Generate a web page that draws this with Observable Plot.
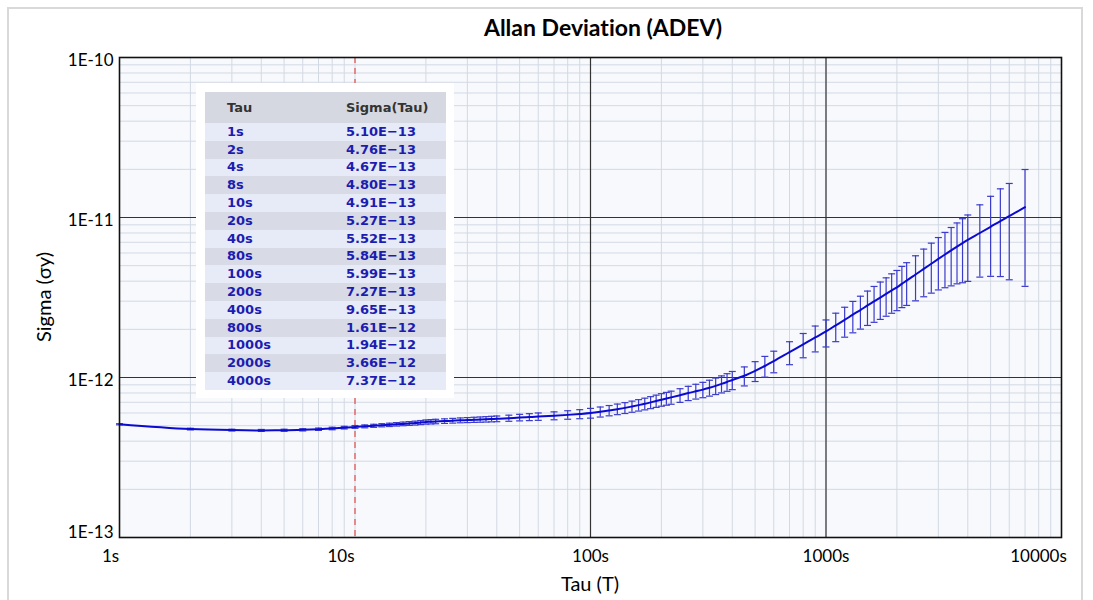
<!DOCTYPE html>
<html>
<head>
<meta charset="utf-8">
<script src="https://cdn.jsdelivr.net/npm/d3@7"></script>
<script src="https://cdn.jsdelivr.net/npm/@observablehq/plot@0.6"></script>
<style>
  html, body { margin: 0; padding: 0; background: #fff; }
  #wrap { position: relative; width: 1093px; height: 600px; overflow: hidden; font-family: Lato, "Open Sans", sans-serif; font-variant-ligatures: none; }
  #border { position: absolute; left: 7px; top: 7px; width: 1076px; height: 620px; border: 2px solid #d9d9d9; box-sizing: border-box; }
  #chart { position: absolute; left: 0; top: 0; }
  #title { position: absolute; left: 0; width: 1206px; top: 13px; text-align: center; font-weight: bold; font-size: 23px; color: #000; }
  #ylabel { position: absolute; left: 43px; top: 297px; transform: translate(-50%, -50%) rotate(-90deg); font-size: 20px; white-space: nowrap; color: #000; }
  #xlabel { position: absolute; left: 590px; top: 571px; transform: translateX(-50%); font-size: 20px; white-space: nowrap; color: #000; }
  #inset { position: absolute; left: 196px; top: 83px; width: 258px; height: 315px; background: #fff; }
  #inset table { position: absolute; left: 9px; top: 9px; width: 241px; border-collapse: collapse; font-family: "DejaVu Sans", sans-serif; font-weight: bold; font-size: 13px; }
  #inset th { background: #d5d8e0; color: #333; height: 31px; text-align: left; padding: 0; }
  #inset td { height: 17.8px; padding: 0; line-height: 14px; color: #1c1cb0; }
  #inset tr.odd td { background: #e7ebf7; }
  #inset tr.even td { background: #d8dbe6; }
  #inset .c1 { padding-left: 22px; width: 119px; }
</style>
</head>
<body>
<div id="wrap">
  <div id="border"></div>
  <div id="chart"></div>
  <div id="title">Allan Deviation (ADEV)</div>
  <div id="ylabel">Sigma (σy)</div>
  <div id="xlabel">Tau (T)</div>
  <div id="inset"></div>
</div>
<script>
// ---- data ----
const tau = [1,2,3,4,5,6,7,8,9,
  10,11,12,13,14,15,16,17,18,19,20,21,22,24,26,28,30,32,34,36,38,40,45,50,55,60,70,80,90,
  100,110,120,130,140,150,160,170,180,190,200,210,220,240,260,280,300,320,340,360,380,400,450,500,550,600,700,800,900,
  1000,1100,1200,1300,1400,1500,1600,1700,1800,1900,2000,2100,2200,2400,2600,2800,3000,3200,3400,3600,3800,4000,4500,5000,5500,6000,7000];
const sigma = [5.10e-13,4.76e-13,4.69e-13,4.67e-13,4.68e-13,4.71e-13,4.75e-13,4.80e-13,4.86e-13,
  4.91e-13,4.95e-13,4.99e-13,5.03e-13,5.06e-13,5.10e-13,5.13e-13,5.16e-13,5.19e-13,5.23e-13,5.27e-13,5.29e-13,5.31e-13,5.34e-13,5.37e-13,5.40e-13,5.42e-13,5.44e-13,5.46e-13,5.48e-13,5.50e-13,5.52e-13,5.57e-13,5.62e-13,5.66e-13,5.70e-13,5.77e-13,5.84e-13,5.91e-13,
  5.99e-13,6.10e-13,6.22e-13,6.34e-13,6.46e-13,6.59e-13,6.72e-13,6.85e-13,6.99e-13,7.13e-13,7.27e-13,7.39e-13,7.51e-13,7.75e-13,7.99e-13,8.20e-13,8.40e-13,8.63e-13,8.87e-13,9.12e-13,9.38e-13,9.65e-13,1.025e-12,1.10e-12,1.18e-12,1.265e-12,1.44e-12,1.61e-12,1.78e-12,
  1.94e-12,2.12e-12,2.29e-12,2.47e-12,2.64e-12,2.82e-12,2.99e-12,3.16e-12,3.33e-12,3.50e-12,3.66e-12,3.85e-12,4.03e-12,4.40e-12,4.77e-12,5.14e-12,5.51e-12,5.87e-12,6.23e-12,6.58e-12,6.92e-12,7.25e-12,8.00e-12,8.75e-12,9.50e-12,1.02e-11,1.16e-11];
// error bar extents, percent of sigma (upper / lower)
const errUpPct = [0.8,1.2,1.3,1.4,1.5,1.6,1.7,1.8,1.9,
  2.0,2.1,2.2,2.3,2.4,2.5,2.6,2.7,2.8,2.9,3.0,3.1,3.2,3.3,3.4,3.5,3.6,3.7,3.8,3.9,4.0,4.1,4.4,4.7,5.0,5.3,5.7,6.1,6.5,
  7.0,7.2,7.4,7.6,7.8,8.0,8.2,8.4,8.6,8.8,9.0,9.2,9.4,9.8,10.2,10.6,11.0,11.4,11.8,12.2,12.6,13.0,13.6,14.2,14.8,15.4,16.2,17.0,17.8,
  18,19,20,21,22,23,24,25,26,27,27.5,28.5,29.5,31,33,34.5,36,37.5,39,40.5,42,43,50,55,59,60,72];
const errDownPct = [0.8,1.2,1.3,1.4,1.5,1.6,1.7,1.8,1.9,
  2.0,2.1,2.2,2.3,2.4,2.5,2.6,2.7,2.8,2.9,3.0,3.1,3.2,3.3,3.4,3.5,3.6,3.7,3.8,3.9,4.0,4.1,4.4,4.7,5.0,5.3,5.7,6.1,6.5,
  7.0,7.2,7.4,7.6,7.8,8.0,8.2,8.4,8.6,8.8,9.0,9.2,9.4,9.8,10.2,10.6,11.0,11.4,11.8,12.2,12.6,13.0,13.6,14.2,14.8,15.4,16.5,17.5,18.8,
  20,21,22,23,24,25,26,27,27.5,28,28.5,29,30,31.5,33,34.5,36,38,40,41.5,43.5,45,47,51,55,60,68];

// inset table
const tableTau = ["1s","2s","4s","8s","10s","20s","40s","80s","100s","200s","400s","800s","1000s","2000s","4000s"];
const tableSigma = ["5.10E\u221213","4.76E\u221213","4.67E\u221213","4.80E\u221213","4.91E\u221213","5.27E\u221213","5.52E\u221213","5.84E\u221213","5.99E\u221213","7.27E\u221213","9.65E\u221213","1.61E\u221212","1.94E\u221212","3.66E\u221212","7.37E\u221212"];

// axis ticks
const xLabelTicks = [1, 10, 100, 1000, 10000];
const yLabelTicks = [1e-13, 1e-12, 1e-11, 1e-10];
const xMajor = [100, 1000];
const yMajor = [1e-12, 1e-11];
const cursorTau = [10];

// ---- build ----
const data = tau.map((t, i) => ({
  tau: t,
  sigma: sigma[i],
  hi: sigma[i] * (1 + errUpPct[i] / 100),
  lo: sigma[i] * (1 - errDownPct[i] / 100)
}));

const cap = {
  draw(ctx, size) {
    const w = Math.sqrt(size / Math.PI);
    ctx.moveTo(-w, 0);
    ctx.lineTo(w, 0);
  }
};

const barColor = "#3b3bcc";
const xfmt = d => d + "s";
const yfmt = d => "1E" + Math.round(Math.log10(d));
const xAxisOpts = { tickFormat: xfmt, tickSize: 0, tickPadding: 12, fontSize: 17, label: null };
const yAxisOpts = { tickFormat: yfmt, tickSize: 0, tickPadding: 6, fontSize: 17, label: null };

const chart = Plot.plot({
  width: 1093,
  height: 600,
  marginLeft: 119,
  marginRight: 32,
  marginTop: 57,
  marginBottom: 63,
  style: { fontFamily: "Lato, 'Open Sans', sans-serif", background: "transparent", color: "#000" },
  x: { type: "log", domain: [1, 10000] },
  y: { type: "log", domain: [1e-13, 1e-10] },
  marks: [
    Plot.frame({ fill: "#f7f9fc", stroke: "none" }),
    Plot.gridX({ ticks: 20, stroke: "#d3d9e3", strokeOpacity: 1, strokeWidth: 1 }),
    Plot.gridY({ ticks: 20, stroke: "#d3d9e3", strokeOpacity: 1, strokeWidth: 1 }),
    Plot.ruleX(xMajor, { stroke: "#333", strokeWidth: 1.2 }),
    Plot.ruleY(yMajor, { stroke: "#333", strokeWidth: 1.2 }),
    Plot.ruleX(cursorTau, { stroke: "#e05858", strokeWidth: 1.3, strokeDasharray: "6,5" }),
    Plot.ruleX(data, { x: "tau", y1: "lo", y2: "hi", stroke: barColor, strokeWidth: 1.2 }),
    Plot.dot(data, { x: "tau", y: "hi", symbol: cap, r: 3.5, fill: "none", stroke: barColor, strokeWidth: 1.2 }),
    Plot.dot(data, { x: "tau", y: "lo", symbol: cap, r: 3.5, fill: "none", stroke: barColor, strokeWidth: 1.2 }),
    Plot.line(data, { x: "tau", y: "sigma", stroke: "#0a0ad0", strokeWidth: 2, curve: "monotone-x" }),
    Plot.frame({ stroke: "#111", strokeWidth: 1.6 }),
    Plot.axisY({ ...yAxisOpts, ticks: yLabelTicks.slice(0, 1), dy: -5 }),
    Plot.axisY({ ...yAxisOpts, ticks: yLabelTicks.slice(1), dy: 3 }),
    Plot.axisX({ ...xAxisOpts, ticks: xLabelTicks.slice(0, 1), dx: -9 }),
    Plot.axisX({ ...xAxisOpts, ticks: xLabelTicks.slice(1, 2), dx: -14 }),
    Plot.axisX({ ...xAxisOpts, ticks: xLabelTicks.slice(2, 4) }),
    Plot.axisX({ ...xAxisOpts, ticks: xLabelTicks.slice(4), dx: -23 })
  ]
});
document.getElementById("chart").appendChild(chart);

// inset table
const tbl = document.createElement("table");
const head = tbl.insertRow();
["Tau", "Sigma(Tau)"].forEach((h, j) => {
  const th = document.createElement("th");
  th.textContent = h;
  if (j === 0) th.className = "c1";
  head.appendChild(th);
});
tableTau.forEach((t, i) => {
  const r = tbl.insertRow();
  r.className = i % 2 === 0 ? "odd" : "even";
  const c1 = r.insertCell(); c1.textContent = t; c1.className = "c1";
  const c2 = r.insertCell(); c2.textContent = tableSigma[i];
});
document.getElementById("inset").appendChild(tbl);
</script>
</body>
</html>
